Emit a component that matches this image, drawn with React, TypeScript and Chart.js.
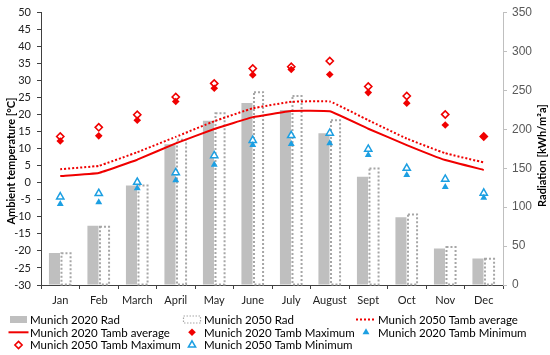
import React, { useEffect, useRef } from 'react';
import { Chart, registerables } from 'chart.js';

Chart.register(...registerables);

const months = ['Jan', 'Feb', 'March', 'April', 'May', 'June', 'July', 'August', 'Sept', 'Oct', 'Nov', 'Dec'];
const rad2020 = [41, 76, 128, 181, 211, 234, 225, 195, 139, 87, 47, 34];
const rad2050 = [42, 76, 129, 188, 222, 249, 244, 213, 151, 92, 50, 35];
const tavg2020 = [2.0, 2.9, 6.8, 11.6, 15.8, 19.3, 21.1, 21.0, 15.9, 11.1, 6.7, 3.8];
const tavg2050 = [4.0, 5.0, 9.0, 13.5, 18.1, 21.9, 23.8, 23.9, 18.4, 13.0, 8.7, 6.0];
const tmax2020 = [12.3, 13.8, 18.4, 23.9, 27.8, 31.7, 33.3, 31.8, 26.5, 23.4, 17.0, 13.6];
const tmax2050 = [13.6, 16.3, 20.0, 25.2, 29.2, 33.6, 34.1, 35.8, 28.3, 25.5, 20.1, 13.6];
const tmin2020 = [-6.2, -5.7, -1.6, 0.8, 5.3, 11.1, 11.4, 11.6, 8.2, 2.3, -1.2, -4.4];
const tmin2050 = [-4.1, -3.1, 0.2, 3.0, 8.0, 12.5, 13.9, 14.6, 9.9, 4.3, 1.1, -3.0];

const RED = '#f00000';
const BLUE = '#1c9fe2';
const GRAY = '#bfbfbf';
const DOT_GRAY = '#a6a6a6';

function shapePath(ctx: CanvasRenderingContext2D, style: string, x: number, y: number, r: number) {
  ctx.beginPath();
  if (style === 'rectRot') {
    ctx.moveTo(x, y - r);
    ctx.lineTo(x + r, y);
    ctx.lineTo(x, y + r);
    ctx.lineTo(x - r, y);
  } else {
    ctx.moveTo(x, y - r);
    ctx.lineTo(x + r * 0.866, y + r * 0.5);
    ctx.lineTo(x - r * 0.866, y + r * 0.5);
  }
  ctx.closePath();
}

const dottedBars = {
  id: 'dottedBars',
  afterDatasetDraw(chart: any, args: any) {
    const ds: any = chart.data.datasets[args.index];
    if (!ds.dottedOutline) return;
    const ctx = chart.ctx as CanvasRenderingContext2D;
    ctx.save();
    ctx.strokeStyle = ds.dottedOutline;
    ctx.lineWidth = 2;
    ctx.setLineDash([2, 2]);
    args.meta.data.forEach((el: any) => {
      const { x, y, base, width } = el.getProps(['x', 'y', 'base', 'width'], true);
      const left = x - width / 2;
      const top = Math.min(y, base);
      const h = Math.abs(base - y);
      ctx.strokeRect(left + 1, top + 1, width - 2, h - 1);
    });
    ctx.restore();
  },
};

const extras = {
  id: 'extras',
  afterDraw(chart: any) {
    const ctx = chart.ctx as CanvasRenderingContext2D;
    const area = chart.chartArea;
    ctx.save();
    // axis titles
    ctx.fillStyle = '#000';
    ctx.font = 'bold 11px Lato';
    ctx.textAlign = 'center';
    ctx.textBaseline = 'middle';
    ctx.save();
    ctx.translate(11, area.top + (area.bottom - area.top) * 0.545);
    ctx.rotate(-Math.PI / 2);
    ctx.fillText('Ambient temperature [°C]', 0, 0);
    ctx.restore();
    ctx.save();
    ctx.translate(542, area.top + (area.bottom - area.top) * 0.525);
    ctx.rotate(-Math.PI / 2);
    ctx.fillText('Radiation [kWh/m²a]', 0, 0);
    ctx.restore();

    // legend (grid of 3 columns)
    const cols = [
      { sym: 18.5, text: 30 },
      { sym: 192, text: 204 },
      { sym: 366, text: 378 },
    ];
    const rows = [319.5, 332.3, 345];
    ctx.font = '11.5px Lato';
    ctx.textAlign = 'left';
    chart.data.datasets.forEach((ds: any, i: number) => {
      const c = cols[i % 3];
      const y = rows[Math.floor(i / 3)];
      const sx = c.sym;
      ctx.save();
      if (ds.legendKind === 'bar') {
        ctx.fillStyle = ds.backgroundColor;
        ctx.fillRect(sx - 8.5, y - 3.5, 17, 7);
      } else if (ds.legendKind === 'dotbar') {
        ctx.strokeStyle = ds.dottedOutline;
        ctx.lineWidth = 1.2;
        ctx.setLineDash([1.5, 1.5]);
        ctx.strokeRect(sx - 8.5, y - 3.5, 17, 7);
      } else if (ds.legendKind === 'line') {
        ctx.strokeStyle = ds.borderColor;
        ctx.lineWidth = ds.borderWidth;
        if (ds.borderDash) ctx.setLineDash(ds.borderDash);
        ctx.beginPath();
        ctx.moveTo(sx - 10, y);
        ctx.lineTo(sx + 10, y);
        ctx.stroke();
      } else {
        shapePath(ctx, ds.pointStyle, sx, y, ds.pointRadius);
        ctx.fillStyle = ds.pointBackgroundColor;
        ctx.fill();
        if (ds.pointBorderWidth) {
          ctx.strokeStyle = ds.pointBorderColor;
          ctx.lineWidth = ds.pointBorderWidth;
          ctx.stroke();
        }
      }
      ctx.restore();
      ctx.fillStyle = '#000';
      ctx.fillText(ds.label, c.text, y + 0.5);
    });
    ctx.restore();
  },
};

export default function App() {
  const ref = useRef<HTMLCanvasElement | null>(null);

  useEffect(() => {
    if (!ref.current) return;
    const tickFont = { family: 'Lato', size: 11 };
    const chart = new Chart(ref.current, {
      type: 'bar',
      data: {
        labels: months,
        datasets: [
          {
            type: 'bar',
            label: 'Munich 2020 Rad',
            data: rad2020,
            yAxisID: 'y2',
            backgroundColor: GRAY,
            borderWidth: 0,
            order: 9,
            legendKind: 'bar',
          } as any,
          {
            type: 'bar',
            label: 'Munich 2050 Rad',
            data: rad2050,
            yAxisID: 'y2',
            backgroundColor: '#ffffff',
            borderWidth: 0,
            order: 10,
            legendKind: 'dotbar',
            dottedOutline: DOT_GRAY,
          } as any,
          {
            type: 'line',
            label: 'Munich 2050 Tamb average',
            data: tavg2050,
            yAxisID: 'y',
            borderColor: RED,
            borderWidth: 2,
            borderDash: [2, 2],
            pointRadius: 0,
            tension: 0.08,
            fill: false,
            order: 5,
            legendKind: 'line',
          } as any,
          {
            type: 'line',
            label: 'Munich 2020 Tamb average',
            data: tavg2020,
            yAxisID: 'y',
            borderColor: RED,
            borderWidth: 2,
            pointRadius: 0,
            tension: 0.08,
            fill: false,
            order: 4,
            legendKind: 'line',
          } as any,
          {
            type: 'line',
            label: 'Munich 2020 Tamb Maximum',
            data: tmax2020,
            yAxisID: 'y',
            showLine: false,
            pointStyle: 'rectRot',
            pointRadius: 3.8,
            pointBackgroundColor: RED,
            pointBorderColor: RED,
            pointBorderWidth: 0,
            order: 1,
            legendKind: 'point',
          } as any,
          {
            type: 'line',
            label: 'Munich 2020 Tamb Minimum',
            data: tmin2020,
            yAxisID: 'y',
            showLine: false,
            pointStyle: 'triangle',
            pointRadius: 4,
            pointBackgroundColor: BLUE,
            pointBorderColor: BLUE,
            pointBorderWidth: 0,
            order: 1,
            legendKind: 'point',
          } as any,
          {
            type: 'line',
            label: 'Munich 2050 Tamb Maximum',
            data: tmax2050,
            yAxisID: 'y',
            showLine: false,
            pointStyle: 'rectRot',
            pointRadius: 3.6,
            pointBackgroundColor: '#ffffff',
            pointBorderColor: RED,
            pointBorderWidth: 1.6,
            order: 2,
            legendKind: 'point',
          } as any,
          {
            type: 'line',
            label: 'Munich 2050 Tamb Minimum',
            data: tmin2050,
            yAxisID: 'y',
            showLine: false,
            pointStyle: 'triangle',
            pointRadius: 4.2,
            pointBackgroundColor: '#ffffff',
            pointBorderColor: BLUE,
            pointBorderWidth: 1.5,
            order: 2,
            legendKind: 'point',
          } as any,
        ],
      },
      options: {
        responsive: false,
        animation: false,
        devicePixelRatio: 1,
        layout: { padding: { top: 9, bottom: 48, left: 0, right: 0 } },
        datasets: {
          bar: { categoryPercentage: 0.6, barPercentage: 0.96 },
        },
        plugins: {
          legend: { display: false },
          tooltip: { enabled: false },
        },
        scales: {
          x: {
            type: 'category',
            offset: true,
            grid: { offset: true, drawOnChartArea: false, drawTicks: true, tickLength: 4, color: '#404040' },
            border: { display: true, color: '#404040' },
            ticks: { padding: 5, font: tickFont, color: '#222', maxRotation: 0, autoSkip: false },
            afterFit: (s: any) => { s.height = 22; },
          },
          y: {
            position: 'left',
            min: -30,
            max: 50,
            ticks: { stepSize: 5, padding: 6, font: tickFont, color: '#222' },
            grid: { drawOnChartArea: false, drawTicks: true, tickLength: 4, color: '#404040' },
            border: { display: true, color: '#404040' },
            afterFit: (s: any) => { s.width = 41; },
          },
          y2: {
            position: 'right',
            min: 0,
            max: 350,
            ticks: { stepSize: 50, padding: 5, font: { family: 'Liberation Sans', size: 12 }, color: '#595959' },
            grid: { drawOnChartArea: false, drawTicks: true, tickLength: 4, color: '#bfbfbf' },
            border: { display: true, color: '#bfbfbf' },
            afterFit: (s: any) => { s.width = 47; },
          },
        },
      } as any,
      plugins: [dottedBars, extras],
    });
    return () => chart.destroy();
  }, []);

  return (
    <div style={{ position: 'absolute', left: 0, top: 0, width: 550, height: 355, background: '#fff' }}>
      <canvas ref={ref} width={550} height={355} style={{ display: 'block' }} />
    </div>
  );
}
